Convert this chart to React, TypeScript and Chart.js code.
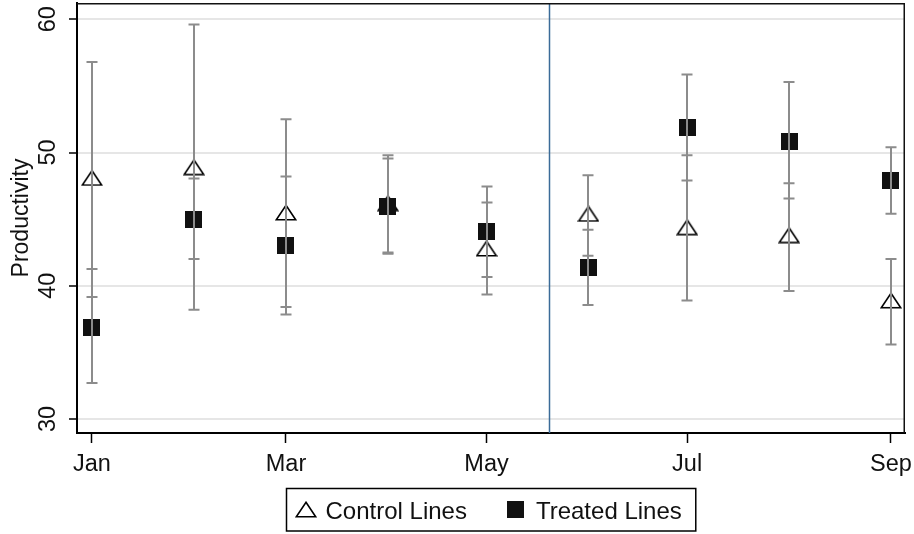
import { useEffect, useRef } from 'react';
import { Chart, registerables } from 'chart.js';

Chart.register(...registerables);

// ---------- data ----------
const months = ['Jan', 'Feb', 'Mar', 'Apr', 'May', 'Jun', 'Jul', 'Aug', 'Sep'];
const monthStartDay = [0, 31, 59, 90, 120, 151, 181, 212, 243];
const controlMean = [48.1, 48.9, 45.5, 46.2, 42.8, 45.4, 44.4, 43.8, 38.9];
const controlLow = [39.15, 38.2, 38.4, 42.4, 39.35, 42.25, 38.9, 39.6, 35.6];
const controlHigh = [56.8, 59.6, 52.5, 49.8, 46.25, 48.3, 49.8, 47.7, 42.0];
const treatedMean = [36.9, 44.95, 43.0, 45.95, 44.05, 41.4, 51.85, 50.8, 47.9];
const treatedLow = [32.7, 42.0, 37.85, 42.5, 40.65, 38.55, 47.9, 46.55, 45.4];
const treatedHigh = [41.25, 48.05, 48.2, 49.55, 47.45, 44.2, 55.85, 55.3, 50.4];
const xTickLabels = ['Jan', 'Mar', 'May', 'Jul', 'Sep'];
const yTickValues = [30, 40, 50, 60];
const interventionDay = 139;
const seriesLabels = ['Control Lines', 'Treated Lines'];
const yTitle = 'Productivity';

const FONT = "'Liberation Sans', Arial, sans-serif";
const TEXT = '#111';

function makeTriangle() {
  const c = document.createElement('canvas');
  c.width = 22;
  c.height = 17;
  const g = c.getContext('2d')!;
  g.strokeStyle = '#000';
  g.lineWidth = 1.6;
  g.beginPath();
  g.moveTo(11, 1.3);
  g.lineTo(20.7, 15.7);
  g.lineTo(1.3, 15.7);
  g.closePath();
  g.stroke();
  return c;
}

function makeSquare() {
  const c = document.createElement('canvas');
  c.width = 17;
  c.height = 17;
  const g = c.getContext('2d')!;
  g.fillStyle = '#111';
  g.fillRect(0, 0, 17, 17);
  return c;
}

const decorPlugin = {
  id: 'decor',
  beforeDatasetsDraw(chart: any) {
    const { ctx, chartArea: a, scales } = chart;
    const x = Math.round(scales.x.getPixelForValue(interventionDay)) + 0.5;
    ctx.save();
    ctx.strokeStyle = '#3b6b98';
    ctx.lineWidth = 1.5;
    ctx.beginPath();
    ctx.moveTo(x, a.top);
    ctx.lineTo(x, a.bottom);
    ctx.stroke();
    ctx.restore();
  },
  afterDatasetsDraw(chart: any) {
    const { ctx, scales } = chart;
    const ys = scales.y;
    chart.data.datasets.forEach((ds: any, di: number) => {
      const meta = chart.getDatasetMeta(di);
      meta.data.forEach((pt: any, i: number) => {
        const x = Math.round(pt.x);
        const y1 = ys.getPixelForValue(ds.errLow[i]);
        const y2 = ys.getPixelForValue(ds.errHigh[i]);
        ctx.save();
        ctx.strokeStyle = '#8c8c8c';
        ctx.lineWidth = 2;
        ctx.beginPath();
        ctx.moveTo(x, y1);
        ctx.lineTo(x, y2);
        ctx.moveTo(x - 5.5, y1);
        ctx.lineTo(x + 5.5, y1);
        ctx.moveTo(x - 5.5, y2);
        ctx.lineTo(x + 5.5, y2);
        ctx.stroke();
        ctx.restore();
      });
    });
  },
  afterDraw(chart: any) {
    const { ctx, chartArea: a, scales } = chart;
    ctx.save();
    // top & right frame
    ctx.strokeStyle = '#111';
    ctx.lineWidth = 1.5;
    ctx.beginPath();
    ctx.moveTo(a.left, a.top + 0.75);
    ctx.lineTo(a.right - 0.75, a.top + 0.75);
    ctx.lineTo(a.right - 0.75, a.bottom);
    ctx.stroke();

    // rotated y tick labels
    ctx.fillStyle = TEXT;
    ctx.font = `23.5px ${FONT}`;
    ctx.textAlign = 'center';
    ctx.textBaseline = 'alphabetic';
    yTickValues.forEach((v) => {
      const y = scales.y.getPixelForValue(v);
      ctx.save();
      ctx.translate(a.left - 22, y);
      ctx.rotate(-Math.PI / 2);
      ctx.fillText(String(v), 0, 0);
      ctx.restore();
    });

    // legend
    const fs = 24;
    ctx.font = `${fs}px ${FONT}`;
    const items = chart.data.datasets.map((ds: any) => ({
      label: ds.label,
      img: ds.pointStyle,
      w: ctx.measureText(ds.label).width,
    }));
    const padL = 8, mW = 22, mGap = 9, iGap = 38, padR = 14;
    const total =
      padL + padR +
      items.reduce((s: number, it: any) => s + mW + mGap + it.w, 0) +
      iGap * (items.length - 1);
    const cx = (a.left + a.right) / 2;
    const bx = Math.round(cx - total / 2) + 0.5;
    const by = 488.5;
    const bh = 42.5;
    ctx.strokeStyle = '#000';
    ctx.lineWidth = 1.5;
    ctx.strokeRect(bx, by, total, bh);
    let x = bx + padL;
    const my = 509.5;
    ctx.textAlign = 'left';
    ctx.textBaseline = 'alphabetic';
    ctx.fillStyle = TEXT;
    items.forEach((it: any) => {
      ctx.drawImage(it.img, Math.round(x + mW / 2 - it.img.width / 2), Math.round(my - it.img.height / 2));
      x += mW + mGap;
      ctx.fillText(it.label, x, 519);
      x += it.w + iGap;
    });
    ctx.restore();
  },
};

export default function App() {
  const ref = useRef<HTMLCanvasElement | null>(null);

  useEffect(() => {
    if (!ref.current) return;
    const tri = makeTriangle();
    const sq = makeSquare();
    const chart = new Chart(ref.current, {
      type: 'scatter',
      data: {
        datasets: [
          {
            label: seriesLabels[0],
            data: monthStartDay.map((d, i) => ({ x: d, y: controlMean[i] })),
            pointStyle: tri as any,
            pointRadius: 8,
            order: 2,
            errLow: controlLow,
            errHigh: controlHigh,
          } as any,
          {
            label: seriesLabels[1],
            data: monthStartDay.map((d, i) => ({ x: d, y: treatedMean[i] })),
            pointStyle: sq as any,
            pointRadius: 8,
            order: 1,
            errLow: treatedLow,
            errHigh: treatedHigh,
          } as any,
        ],
      },
      options: {
        responsive: false,
        devicePixelRatio: 1,
        animation: false,
        events: [],
        layout: { autoPadding: false, padding: { left: 0, top: 3, right: 9, bottom: 41 } },
        plugins: { legend: { display: false }, tooltip: { enabled: false } },
        scales: {
          x: {
            type: 'linear',
            min: -4.56,
            max: 247.26,
            afterBuildTicks: (s: any) => {
              s.ticks = xTickLabels.map((m) => ({ value: monthStartDay[months.indexOf(m)] }));
            },
            afterFit: (s: any) => {
              s.height = 60;
              s.paddingLeft = 0;
              s.paddingRight = 0;
            },
            ticks: {
              autoSkip: false,
              maxRotation: 0,
              padding: 7,
              color: TEXT,
              font: { family: FONT, size: 23.5 },
              callback: (v: any) => {
                const i = monthStartDay.indexOf(Number(v));
                return i >= 0 ? months[i] : '';
              },
            },
            grid: { drawOnChartArea: false, tickLength: 10, tickColor: '#000', tickWidth: 1.5 },
            border: { color: '#000', width: 2 },
          },
          y: {
            type: 'linear',
            min: 28.95,
            max: 61.22,
            afterBuildTicks: (s: any) => {
              s.ticks = yTickValues.map((v) => ({ value: v }));
            },
            afterFit: (s: any) => {
              s.width = 77;
              s.paddingTop = 0;
              s.paddingBottom = 0;
            },
            ticks: { display: false },
            grid: { color: '#e6e6e6', lineWidth: 2, tickColor: '#000', tickLength: 8, tickWidth: 1.5 },
            border: { color: '#000', width: 2 },
            title: {
              display: true,
              text: yTitle,
              color: TEXT,
              font: { family: FONT, size: 23 },
              padding: { top: 7.5, bottom: 0 },
            },
          },
        },
      },
      plugins: [decorPlugin],
    } as any);
    return () => chart.destroy();
  }, []);

  return (
    <div style={{ position: 'absolute', left: 0, top: 0, width: 914, height: 534, background: '#fff' }}>
      <canvas ref={ref} width={914} height={534} style={{ display: 'block' }} />
    </div>
  );
}
